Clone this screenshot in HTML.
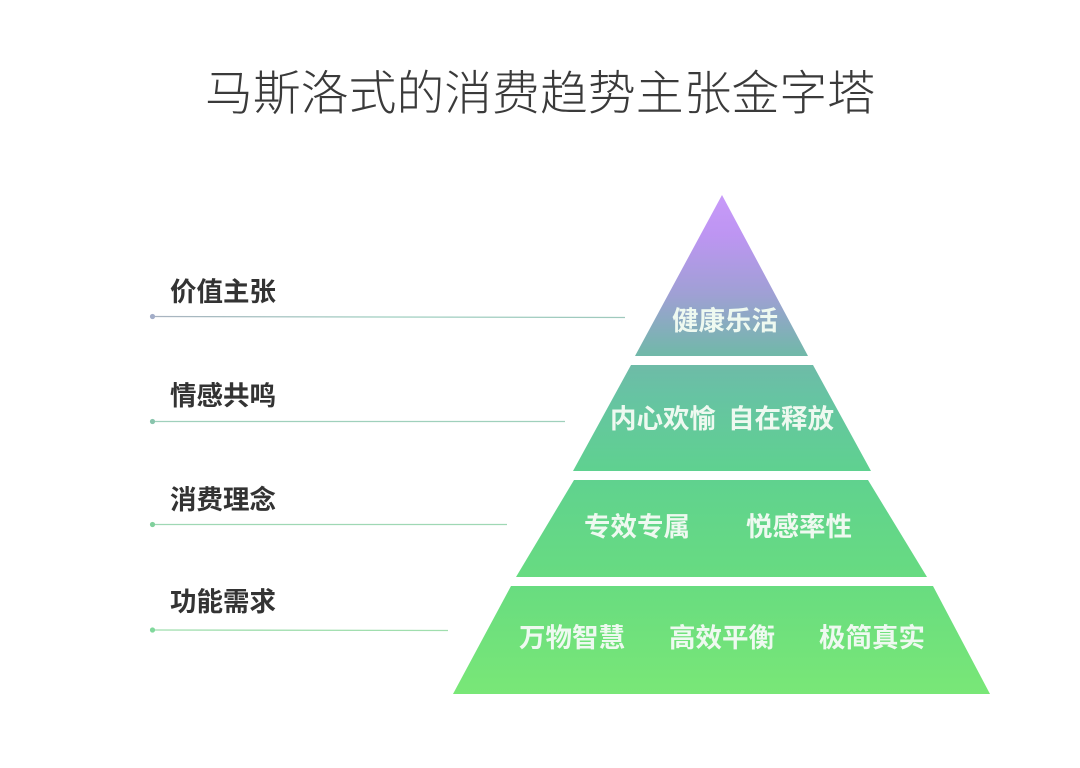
<!DOCTYPE html>
<html lang="zh">
<head>
<meta charset="utf-8">
<title>马斯洛式的消费趋势主张金字塔</title>
<style>
html,body{margin:0;padding:0;background:#fff;width:1080px;height:768px;overflow:hidden}
svg{display:block}
text{font-family:"Liberation Sans","Noto Sans CJK SC",sans-serif}
.title{font-size:47.8px;font-weight:300;fill:#3a3a3a}
.lab{font-size:26.5px;font-weight:700;fill:#333}
.in{font-size:26.5px;font-weight:700;fill:#eef9f0}
</style>
</head>
<body>
<svg width="1080" height="768" viewBox="0 0 1080 768" xmlns="http://www.w3.org/2000/svg">
<defs>
<linearGradient id="g" gradientUnits="userSpaceOnUse" x1="0" y1="195" x2="0" y2="694">
<stop offset="0" stop-color="#c89af9"/>
<stop offset="0.08" stop-color="#bd95f2"/>
<stop offset="0.2" stop-color="#9fa0d4"/>
<stop offset="0.32" stop-color="#71b8a9"/>
<stop offset="0.4" stop-color="#67c3a3"/>
<stop offset="0.55" stop-color="#5fd190"/>
<stop offset="0.78" stop-color="#68dc80"/>
<stop offset="1" stop-color="#79e777"/>
</linearGradient>
<linearGradient id="l1" gradientUnits="userSpaceOnUse" x1="152" y1="0" x2="625" y2="0"><stop offset="0" stop-color="#a9b3c0"/><stop offset="0.5" stop-color="#9fcfc0"/><stop offset="1" stop-color="#9fc9bd"/></linearGradient>
</defs>
<rect width="1080" height="768" fill="#fff"/>
<text class="title" x="205" y="110" textLength="670" lengthAdjust="spacing">马斯洛式的消费趋势主张金字塔</text>

<polygon fill="url(#g)" points="722,195 808,356 635,356"/>
<polygon fill="url(#g)" points="631,365 813,365 871,471 573,471"/>
<polygon fill="url(#g)" points="574,480 868,480 927,577 516,577"/>
<polygon fill="url(#g)" points="511,586 933,586 990,694 453,694"/>

<g fill="none" stroke-width="1.3">
<line x1="152" y1="316.5" x2="625" y2="317.5" stroke="url(#l1)"/>
<line x1="152" y1="421.5" x2="565" y2="421.5" stroke="#9fd0bc"/>
<line x1="152" y1="524.5" x2="507" y2="524.5" stroke="#9fd8b4"/>
<line x1="152" y1="630" x2="448" y2="630.5" stroke="#a0deae"/>
</g>
<circle cx="152.5" cy="316.5" r="2.6" fill="#a3adc8"/>
<circle cx="152.5" cy="421.5" r="2.6" fill="#88c4ac"/>
<circle cx="152.5" cy="524.5" r="2.6" fill="#80d09c"/>
<circle cx="152.5" cy="630" r="2.6" fill="#80d89c"/>

<text class="lab" x="170" y="301">价值主张</text>
<text class="lab" x="170" y="405">情感共鸣</text>
<text class="lab" x="170" y="509">消费理念</text>
<text class="lab" x="170" y="611">功能需求</text>

<text class="in" x="672" y="330">健康乐活</text>
<text class="in" x="610" y="428">内心欢愉</text>
<text class="in" x="728" y="428">自在释放</text>
<text class="in" x="584" y="536">专效专属</text>
<text class="in" x="746" y="536">悦感率性</text>
<text class="in" x="519" y="647">万物智慧</text>
<text class="in" x="669" y="647">高效平衡</text>
<text class="in" x="819" y="647">极简真实</text>
</svg>
</body>
</html>
